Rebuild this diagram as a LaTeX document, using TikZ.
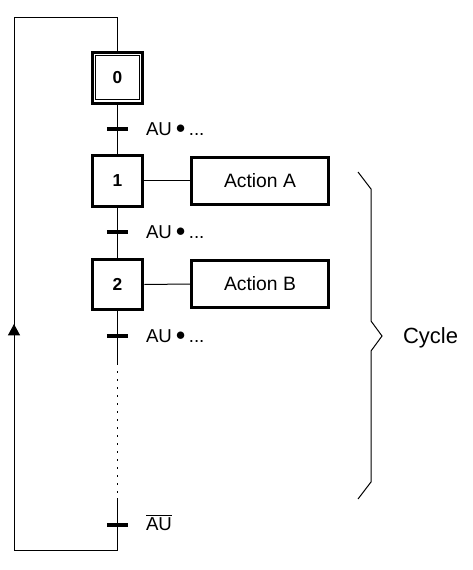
\documentclass[tikz,border=0pt]{standalone}
\usepackage{fontspec}
\setmainfont{Liberation Sans}
\usetikzlibrary{arrows.meta}

\tikzset{
	stepbox/.style={draw, line width=2.4pt, minimum width=38pt, minimum height=38pt, inner sep=0pt, font=\fontsize{13}{15}\selectfont\bfseries},
	actionbox/.style={draw, line width=2.3pt, minimum width=102.5pt, minimum height=35pt, inner sep=0pt, font=\fontsize{14.5}{17}\selectfont},
	trbar/.style={line width=2.3pt},
	trlabel/.style={anchor=base west, inner sep=0pt, font=\fontsize{14}{16}\selectfont},
	link/.style={line width=0.75pt}}
\tikzset{every picture/.style={line width=0.75pt}}
\newcommand{\andbul}{\hspace{3pt}\raisebox{1.5pt}{$\bullet$}\hspace{2.5pt}}

\begin{document}
\begin{tikzpicture}[x=0.75pt,y=0.75pt,yscale=-1,xscale=1]
	\path[use as bounding box] (0,0) rectangle (472,570);

	%Shape: Steps
	\node[stepbox] (s0) at (117.5,78) {0};
	\node[draw, line width=0.75pt, minimum size=33pt, inner sep=0pt] (s0in) at (s0) {};
	\node[stepbox] (s1) at (117.5,181) {1};
	\node[stepbox] (s2) at (117.5,284.5) {2};
	%Shape: Actions
	\node[actionbox] (aA) at (260,181) {Action A};
	\node[actionbox] (aB) at (260,284) {Action B};

	%Transitions and corners
	\coordinate (t1) at (117.5,129);
	\coordinate (t2) at (117.5,232);
	\coordinate (t3) at (117.5,336);
	\coordinate (t4) at (117.5,525);
	\coordinate (d1) at (117.5,363);
	\coordinate (d2) at (117.5,498);
	\coordinate (c1) at (117.5,18);
	\coordinate (c2) at (14,18);
	\coordinate (c3) at (14,550);
	\coordinate (c4) at (117.5,550);
	\coordinate (up0) at (14,345);
	\coordinate (up1) at (14,324);

	%Straight Lines
	\draw[link] (s0.south) -- (s1.north);
	\draw[link] (s1.south) -- (s2.north);
	\draw[link] (s2.south) -- (d1);
	\draw[link, dash pattern=on 1.5pt off 4.5pt] (d1) -- (d2);
	\draw[link] (d2) -- (c4) -- (c3) -- (c2) -- (c1) -- (s0.north);
	\draw[link, -{Triangle[length=8.5pt,width=9pt]}] (up0) -- (up1);
	\draw[link] (s1.east) -- (aA.west);
	\draw[link] (s2.east) -- (aB.west);
	\foreach \t in {t1,t2,t3,t4}
		\draw[trbar] ([xshift=-7.9pt]\t) -- ([xshift=7.9pt]\t);

	%Shape: Brace
	\draw[link] (358,172) -- (371,189) -- (371,321) -- (382,336) -- (371,351) -- (371,482) -- (358,499);

	% Text Node
	\node[trlabel] (l1) at (145.5,135.5) {AU\andbul...};
	% Text Node
	\node[trlabel] (l2) at (145.5,238.5) {AU\andbul...};
	% Text Node
	\node[trlabel] (l3) at (145.5,342.5) {AU\andbul...};
	% Text Node
	\node[trlabel] (l4) at (145.5,530) {$\overline{\mbox{AU}}$};
	% Text Node
	\node[anchor=base west, inner sep=0pt, font=\fontsize{16.5}{19}\selectfont] (cyc) at (402.5,343) {Cycle};

\end{tikzpicture}
\end{document}
